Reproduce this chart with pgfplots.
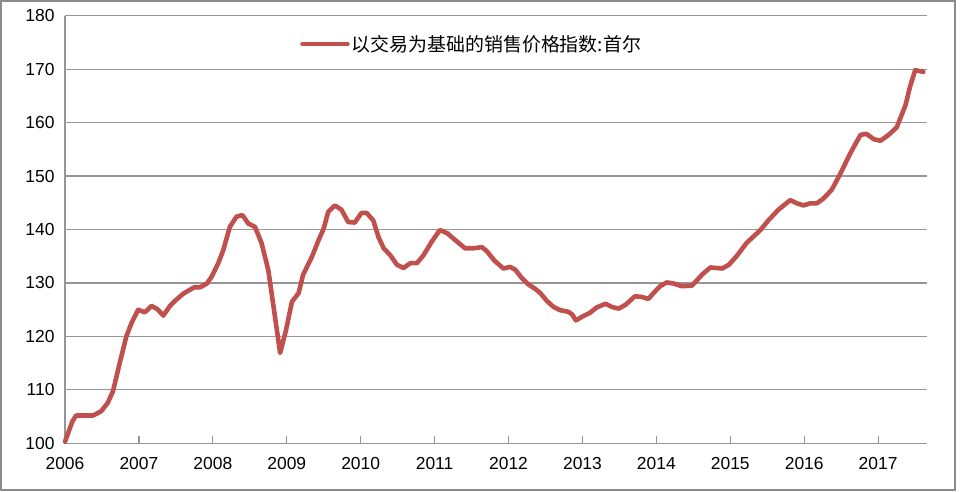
\documentclass[border=0pt]{standalone}
\usepackage{pgfplots}
\pgfplotsset{compat=1.18}
\usepackage{fontspec}
\setmainfont{Liberation Sans}
\newfontfamily\cjk{Noto Sans CJK SC}
\definecolor{linered}{RGB}{192,80,77}
\definecolor{gridgray}{RGB}{150,150,150}
\definecolor{framegray}{RGB}{140,140,140}
\begin{document}
\begin{tikzpicture}
\useasboundingbox (0,0) rectangle (960bp,492bp);
\draw[framegray, line width=1.5bp] (1bp,2bp) rectangle (955bp,491bp);
\begin{axis}[
  at={(65bp,48.7bp)}, anchor=south west,
  scale only axis, width=862bp, height=427.6bp,
  xmin=2006, xmax=2017.66, ymin=100, ymax=180,
  xtick={2006,2007,...,2017}, ytick={100,110,...,180},
  axis x line=bottom, axis y line=left,
  axis line style={gridgray, line width=1.2bp, -},
  x axis line style={-}, y axis line style={-},
  tick align=inside,
  major tick length=7bp,
  xtick style={gridgray, line width=1.2bp},
  ytick style={draw=none},
  ymajorgrids,
  grid style={gridgray, line width=1.2bp},
  xticklabel style={font=\fontsize{17.5}{20}\selectfont, yshift=-11bp},
  yticklabel style={font=\fontsize{17.5}{20}\selectfont, xshift=-7bp},
  /pgf/number format/assume math mode=true,
  /pgf/number format/1000 sep={},
  clip=false,
  legend style={draw=none, fill=none, at={(0.2726,0.934)}, anchor=west, inner sep=0pt,
    font=\cjk\fontsize{19}{22}\selectfont, cells={anchor=west}},
  legend image code/.code={\draw[#1] (-2bp,0bp) -- (43bp,0bp);},
]
\addplot[linered, line width=4.6bp, line join=round, line cap=round] coordinates {
(2006.00,100.3) (2006.10,104.1) (2006.15,105.2) (2006.38,105.2) (2006.49,106.0)
(2006.58,107.6) (2006.65,109.8) (2006.74,115.0) (2006.83,120.0) (2006.90,122.5)
(2006.99,125.0) (2007.08,124.5) (2007.17,125.7) (2007.25,125.1) (2007.33,123.9)
(2007.42,125.7) (2007.50,126.8) (2007.60,128.0) (2007.75,129.2) (2007.83,129.2)
(2007.92,129.9) (2007.985,131.2) (2008.07,133.6) (2008.14,136.1) (2008.23,140.5)
(2008.32,142.4) (2008.40,142.7) (2008.48,141.1) (2008.57,140.5) (2008.66,137.4)
(2008.75,132.4) (2008.84,123.7) (2008.91,116.9) (2008.99,121.2) (2009.07,126.5)
(2009.16,128.1) (2009.22,131.5) (2009.34,134.9) (2009.43,138.0) (2009.50,140.2)
(2009.56,143.3) (2009.65,144.5) (2009.74,143.7) (2009.83,141.4) (2009.92,141.3)
(2010.01,143.1) (2010.08,143.1) (2010.17,141.7) (2010.24,138.6) (2010.31,136.5)
(2010.40,135.2) (2010.49,133.4) (2010.58,132.8) (2010.67,133.7) (2010.76,133.7)
(2010.85,135.2) (2010.96,137.7) (2011.07,139.9) (2011.17,139.3) (2011.28,138.0)
(2011.41,136.5) (2011.53,136.5) (2011.64,136.7) (2011.71,135.9) (2011.80,134.3)
(2011.93,132.7) (2012.02,133.0) (2012.09,132.5) (2012.18,130.9) (2012.27,129.7)
(2012.36,128.9) (2012.43,128.1) (2012.52,126.6) (2012.61,125.5) (2012.70,124.9)
(2012.81,124.6) (2012.86,124.1) (2012.91,123.0) (2013.01,123.8) (2013.10,124.4)
(2013.19,125.4) (2013.31,126.1) (2013.40,125.5) (2013.49,125.2) (2013.58,125.9)
(2013.71,127.5) (2013.80,127.4) (2013.89,127.0) (2013.96,128.1) (2014.05,129.4)
(2014.14,130.1) (2014.23,129.9) (2014.34,129.4) (2014.48,129.5) (2014.62,131.6)
(2014.73,132.9) (2014.89,132.7) (2014.98,133.4) (2015.09,135.1) (2015.22,137.5)
(2015.40,139.8) (2015.52,141.8) (2015.65,143.7) (2015.81,145.5) (2015.90,144.9)
(2015.99,144.5) (2016.08,144.9) (2016.17,144.9) (2016.26,145.8) (2016.37,147.4)
(2016.49,150.5) (2016.62,154.2) (2016.76,157.7) (2016.84,157.9) (2016.94,156.9)
(2017.03,156.6) (2017.14,157.7) (2017.25,159.1) (2017.37,163.3) (2017.43,166.7)
(2017.50,169.8) (2017.61,169.5)
};
\addlegendentry{以交易为基础的销售价格指数:首尔}
\end{axis}
\end{tikzpicture}
\end{document}
